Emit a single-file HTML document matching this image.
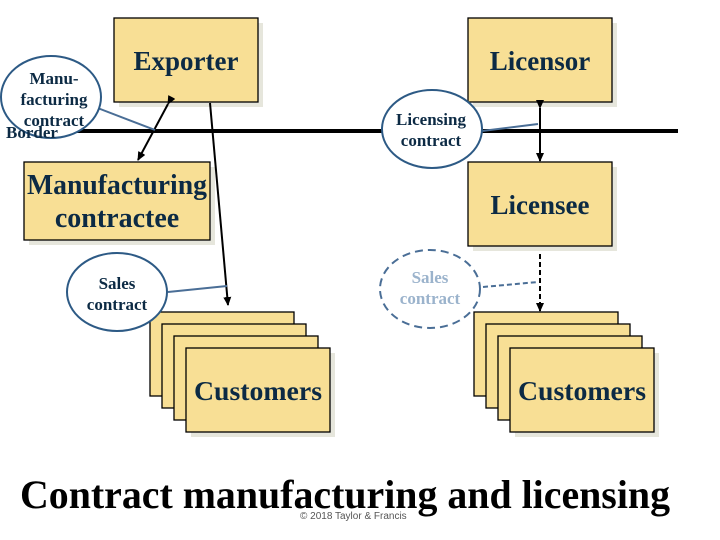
<!DOCTYPE html>
<html><head><style>
body{margin:0;background:#fff}
svg{display:block}
.b{fill:#f8df95;stroke:#000;stroke-width:1.3}
.s{fill:#e6e6dc}
.t{font-family:"Liberation Serif",serif;font-weight:bold;fill:#0c2a44;text-anchor:middle}
.e{fill:#fff;stroke:#2d5a85;stroke-width:2}
</style></head><body>
<svg width="720" height="540" viewBox="0 0 720 540" xmlns="http://www.w3.org/2000/svg">
<defs><marker id="a" markerUnits="userSpaceOnUse" markerWidth="9" markerHeight="8" refX="8" refY="4" orient="auto"><path d="M0,0 L9,4 L0,8 z" fill="#000"/></marker></defs>
<line x1="55" y1="131" x2="678" y2="131" stroke="#000" stroke-width="4"/>
<rect class="s" x="119" y="23" width="144" height="84"/><rect class="b" x="114" y="18" width="144" height="84"/>
<text class="t" x="186" y="70" font-size="27">Exporter</text>
<rect class="s" x="473" y="23" width="144" height="84"/><rect class="b" x="468" y="18" width="144" height="84"/>
<text class="t" x="540" y="70" font-size="27">Licensor</text>
<rect class="s" x="29" y="167" width="186" height="78"/><rect class="b" x="24" y="162" width="186" height="78"/>
<text class="t" x="117" y="194" font-size="28" textLength="180" lengthAdjust="spacingAndGlyphs">Manufacturing</text>
<text class="t" x="117" y="227" font-size="28">contractee</text>
<rect class="s" x="473" y="167" width="144" height="84"/><rect class="b" x="468" y="162" width="144" height="84"/>
<text class="t" x="540" y="214" font-size="27">Licensee</text>
<g>
<rect class="s" x="191" y="353" width="144" height="84"/>
<rect class="b" x="150" y="312" width="144" height="84"/>
<rect class="b" x="162" y="324" width="144" height="84"/>
<rect class="b" x="174" y="336" width="144" height="84"/>
<rect class="b" x="186" y="348" width="144" height="84"/>
<text class="t" x="258" y="400" font-size="27" textLength="128" lengthAdjust="spacingAndGlyphs">Customers</text>
<rect class="s" x="515" y="353" width="144" height="84"/>
<rect class="b" x="474" y="312" width="144" height="84"/>
<rect class="b" x="486" y="324" width="144" height="84"/>
<rect class="b" x="498" y="336" width="144" height="84"/>
<rect class="b" x="510" y="348" width="144" height="84"/>
<text class="t" x="582" y="400" font-size="27" textLength="128" lengthAdjust="spacingAndGlyphs">Customers</text>
</g>
<line x1="168" y1="104" x2="138" y2="160" stroke="#000" stroke-width="2" marker-end="url(#a)" marker-start="url(#a)"/>
<line x1="210" y1="103" x2="228" y2="305" stroke="#000" stroke-width="2" marker-end="url(#a)"/>
<line x1="540" y1="108" x2="540" y2="161" stroke="#000" stroke-width="2" marker-end="url(#a)" marker-start="url(#a)"/>
<line x1="540" y1="254" x2="540" y2="311" stroke="#000" stroke-width="2" stroke-dasharray="5,3" marker-end="url(#a)"/>
<line x1="95" y1="107" x2="155" y2="130" stroke="#4a6e96" stroke-width="2"/>
<ellipse class="e" cx="51" cy="97" rx="50" ry="41"/>
<text class="t" x="54" y="84" font-size="17">Manu-</text>
<text class="t" x="54" y="105" font-size="17">facturing</text>
<text class="t" x="54" y="126" font-size="17">contract</text>
<text class="t" x="32" y="138" font-size="17">Border</text>
<line x1="482" y1="131" x2="538" y2="124" stroke="#4a6e96" stroke-width="2"/>
<ellipse class="e" cx="432" cy="129" rx="50" ry="39"/>
<text class="t" x="431" y="125" font-size="17">Licensing</text>
<text class="t" x="431" y="146" font-size="17">contract</text>
<line x1="168" y1="292" x2="227" y2="286" stroke="#4a6e96" stroke-width="2"/>
<ellipse class="e" cx="117" cy="292" rx="50" ry="39"/>
<text class="t" x="117" y="289" font-size="17">Sales</text>
<text class="t" x="117" y="310" font-size="17">contract</text>
<path d="M483,287 L538,282" fill="none" stroke="#4a6e96" stroke-width="2" stroke-dasharray="5,3"/>
<ellipse cx="430" cy="289" rx="50" ry="39" fill="#fff" stroke="#4a6e96" stroke-width="2" stroke-dasharray="8,5"/>
<text class="t" x="430" y="283" font-size="17" style="fill:#9bb3cc">Sales</text>
<text class="t" x="430" y="304" font-size="17" style="fill:#9bb3cc">contract</text>
<text x="345" y="508" font-family="Liberation Serif,serif" font-weight="bold" font-size="40" text-anchor="middle" fill="#000" textLength="650" lengthAdjust="spacingAndGlyphs">Contract manufacturing and licensing</text>
<text x="300" y="519" font-family="Liberation Sans,sans-serif" font-size="10" fill="#555">© 2018 Taylor &amp; Francis</text>
</svg>
</body></html>
